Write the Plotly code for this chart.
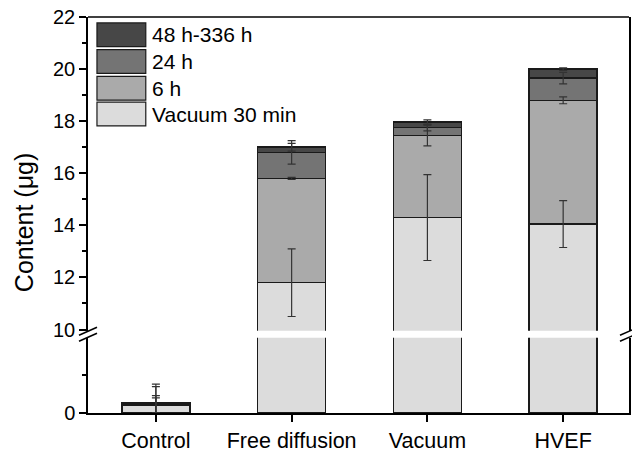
import plotly.graph_objects as go

# ---------------- data ----------------
categories = ["Control", "Free diffusion", "Vacuum", "HVEF"]
series_names = ["Vacuum 30 min", "6 h", "24 h", "48 h-336 h"]

vac30 = [0.20, 11.8, 14.3, 14.05]
h6 = [0.03, 4.0, 3.15, 4.75]
h24 = [0.02, 1.0, 0.30, 0.85]
h48 = [0.02, 0.2, 0.22, 0.35]

vac30_err = [0.20, 1.30, 1.65, 0.90]
h6_err = [0.23, 0.04, 0.40, 0.13]
h24_err = [0.45, 0.45, 0.12, 0.22]
h48_err = [0.50, 0.15, 0.08, 0.05]

lower_range = [0, 2]
upper_range = [9.95, 22]

# ---------------- style ----------------
colors = ["#dcdcdc", "#aaaaaa", "#747474", "#474747"]
FONT = "Liberation Sans, Arial, sans-serif"
W, H = 632, 454
ML, MR, MT, MB = 88, 1, 17, 37
PW, PH = W - ML - MR, H - MT - MB

def px_x(px):
    return (px - ML) / PW

def px_y(py):
    return (H - MB - py) / PH

series = [vac30, h6, h24, h48]
errs = [vac30_err, h6_err, h24_err, h48_err]

fig = go.Figure()

for axis in ["y", "y2"]:
    for name, vals, col in zip(series_names, series, colors):
        fig.add_trace(go.Bar(
            x=categories, y=vals, name=name, width=0.5,
            marker=dict(color=col, line=dict(color="#1a1a1a", width=1.5)),
            xaxis="x", yaxis=axis, showlegend=False, hoverinfo="skip"))

cum = [0.0] * len(categories)
for vals, err in zip(series, errs):
    cum = [c + v for c, v in zip(cum, vals)]
    lo = [i for i, c in enumerate(cum) if c < lower_range[1]]
    hi = [i for i, c in enumerate(cum) if c >= lower_range[1]]
    for idxs, axis in [(lo, "y"), (hi, "y2")]:
        if not idxs:
            continue
        fig.add_trace(go.Scatter(
            x=[categories[i] for i in idxs], y=[cum[i] for i in idxs],
            mode="markers", marker=dict(size=2, opacity=0),
            error_y=dict(type="data", array=[err[i] for i in idxs],
                         color="#333333", thickness=1.2, width=4),
            xaxis="x", yaxis=axis, showlegend=False, hoverinfo="skip"))

axis_common = dict(showline=True, linecolor="black", linewidth=1.5,
                   ticks="outside", tickwidth=1.5, ticklen=7, tickcolor="black",
                   showgrid=False, zeroline=False, ticklabeloverflow="allow")

lower_dom = [0, 76 / PH]
upper_dom = [83 / PH, 1]

fig.update_layout(
    width=W, height=H,
    margin=dict(l=ML, r=MR, t=MT, b=MB),
    paper_bgcolor="white", plot_bgcolor="white",
    barmode="stack", showlegend=False,
    font=dict(family=FONT, size=20, color="black"),
    xaxis=dict(type="category", categoryorder="array", categoryarray=categories,
               range=[-0.5, 3.485], anchor="y",
               tickfont=dict(family=FONT, size=21.5, color="black"), **axis_common),
    yaxis=dict(domain=lower_dom, range=lower_range, anchor="x",
               tickmode="array", tickvals=[0], mirror=True,
               tickfont=dict(family=FONT, size=20, color="black"),
               minor=dict(tickvals=[1], ticklen=4, tickwidth=1.5,
                          tickcolor="black", ticks="outside"),
               **axis_common),
    yaxis2=dict(domain=upper_dom, range=upper_range, anchor="x",
                tickmode="linear", tick0=0, dtick=2, mirror=True,
                tickfont=dict(family=FONT, size=20, color="black"),
                minor=dict(dtick=1, ticklen=4, tickwidth=1.5,
                           tickcolor="black", ticks="outside"),
                **axis_common),
)

shapes = []
# top border
shapes.append(dict(type="line", xref="paper", yref="paper", x0=0, x1=1, y0=1, y1=1,
                   line=dict(color="black", width=1.5)))
# axis break marks
yb = (lower_dom[1] + upper_dom[0]) / 2
for xa in [0, 1]:
    for off in [-3, 3]:
        shapes.append(dict(type="line", xref="paper", yref="paper",
                           xsizemode="pixel", ysizemode="pixel",
                           xanchor=xa, yanchor=yb,
                           x0=-9, x1=9, y0=off - 4, y1=off + 4,
                           line=dict(color="black", width=1.5)))

# manual legend
legend_order = [3, 2, 1, 0]
row_tops = [23, 50, 77, 103]
annotations = []
for top, k in zip(row_tops, legend_order):
    shapes.append(dict(type="rect", xref="paper", yref="paper",
                       x0=px_x(97), x1=px_x(146), y0=px_y(top + 24), y1=px_y(top),
                       fillcolor=colors[k], line=dict(color="#1a1a1a", width=1.2)))
    annotations.append(dict(xref="paper", yref="paper", x=px_x(150), y=px_y(top + 12),
                            text=series_names[k], showarrow=False,
                            xanchor="left", yanchor="middle",
                            font=dict(family=FONT, size=21, color="black")))

annotations.append(dict(xref="paper", yref="paper", x=px_x(24), y=px_y(225),
                        text="Content (μg)", textangle=-90, showarrow=False,
                        xanchor="center", yanchor="middle",
                        font=dict(family=FONT, size=25, color="black")))

fig.update_layout(shapes=shapes, annotations=annotations)

fig.write_html("out.html",
               config={"displayModeBar": False},
               post_script="document.body.style.margin='0px';"
                           "document.body.style.overflow='hidden';")
